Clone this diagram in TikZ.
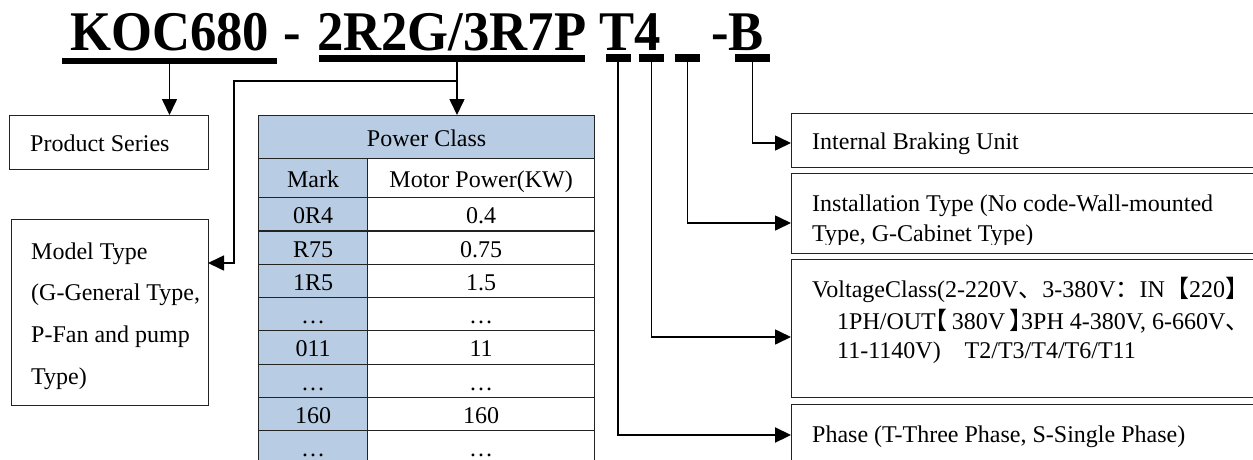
\documentclass[tikz,border=0pt]{standalone}
\usepackage{fontspec}
\setmainfont{Liberation Serif}
\newfontfamily\cjk{Noto Sans CJK SC}
\newfontfamily\cjkh[RawFeature=+halt]{Noto Sans CJK SC}
\usetikzlibrary{arrows.meta}
\definecolor{cellblue}{RGB}{184,204,228}
\definecolor{linegray}{RGB}{35,35,35}
\begin{document}
\begin{tikzpicture}[x=1pt,y=-1pt,
  body/.style={font=\fontsize{24}{28}\selectfont, inner sep=0pt, anchor=base west},
  box/.style={draw=linegray, line width=1.2pt, inner sep=0pt, anchor=north west},
  cell/.style={draw=linegray, line width=1.2pt, inner sep=0pt, anchor=north west,
    text height=19pt, text depth=0pt, font=\fontsize{24}{28}\selectfont},
  ttl/.style={font=\fontsize{56}{60}\selectfont\bfseries, inner sep=0pt, anchor=base west},
  bar/.style={fill=black, draw=none, inner sep=0pt},
  conn/.style={line width=1.6pt, -{Triangle[length=16pt,width=15pt]}},
]
\useasboundingbox (0,0) rectangle (1253,459);
\clip (0,0) rectangle (1253,459);

% title
\node[ttl] (t1) at (70,50) {\scalebox{0.94}[1]{KOC680}};
\node[ttl] (t2) at (283,50) {\scalebox{0.94}[1]{-}};
\node[ttl] (t3) at (317,50) {\scalebox{0.94}[1]{2R2G/3R7P}};
\node[ttl] (t4) at (599,50) {\scalebox{0.94}[1]{T4}};
\node[ttl] (t5) at (711,50) {\scalebox{0.94}[1]{-B}};

% underlines and bars
\node[bar, minimum width=215pt, minimum height=6pt] (u1) at (169.5,61) {};
\node[bar, minimum width=266pt, minimum height=7pt] (u2) at (452,58.5) {};
\node[bar, minimum width=25pt, minimum height=8pt] (b1) at (618,57.5) {};
\node[bar, minimum width=25pt, minimum height=8pt] (b2) at (651.5,57.5) {};
\node[bar, minimum width=25pt, minimum height=8pt] (b3) at (687.5,57.5) {};
\node[bar, minimum width=35pt, minimum height=8pt] (b4) at (752.5,57.5) {};

% left boxes
\node[box, minimum width=199pt, minimum height=54pt] (ps) at (9,115) {};
\node[body] (psl) at (30,151) {Product Series};
\node[box, minimum width=197pt, minimum height=186pt] (mt) at (11,219) {};
\node[body] (mt1) at (31,259) {Model Type};
\node[body] (mt2) at (31,300) {(G-General Type,};
\node[body] (mt3) at (31,342) {P-Fan and pump};
\node[body] (mt4) at (31,384) {Type)};

% table
\node[cell, fill=cellblue, minimum width=336pt, minimum height=43pt] (pc) at (258,115) {Power Class};
\node[cell, fill=cellblue, minimum width=109pt, minimum height=39pt] (mk0) at (258,158) {Mark};
\node[cell, fill=white, minimum width=227pt, minimum height=39pt] (mp0) at (367,158) {Motor Power(KW)};
\foreach \m/\p [count=\i] in {0R4/0.4, R75/0.75, 1R5/1.5, …/…, 011/11, …/…, 160/160, …/…}{
  \node[cell, fill=cellblue, minimum width=109pt, minimum height=33.3pt] (mk\i) at (258,{197+33.3*(\i-1)}) {\m};
  \node[cell, fill=white, minimum width=227pt, minimum height=33.3pt] (mp\i) at (367,{197+33.3*(\i-1)}) {\p};
}

% right boxes
\node[box, minimum width=480pt, minimum height=54pt] (ib) at (791,113) {};
\node[body] (ibl) at (812,149) {Internal Braking Unit};
\node[box, minimum width=480pt, minimum height=80pt] (it) at (791,173) {};
\begin{scope}
  \clip (791,173) rectangle (1253,244);
  \node[body] (it1) at (812,211) {Installation Type (No code-Wall-mounted};
  \node[body] (it2) at (812,241) {Type, G-Cabinet Type)};
\end{scope}
\node[box, minimum width=480pt, minimum height=138pt] (vc) at (791,259) {};
\node[body] (vc1) at (812,297) {VoltageClass(2-220V{\cjk 、}3-380V{\cjk ：}IN{\cjk 【}220{\cjk 】}};
\node[body] (vc2) at (837,329) {1PH/OUT{\cjkh 【}\hspace{4pt}380V\hspace{4pt}{\cjkh 】}3PH 4-380V, 6-660V{\cjk 、}};
\node[body] (vc3) at (837,358) {11-1140V)\hspace{24pt}T2/T3/T4/T6/T11};
\node[box, minimum width=480pt, minimum height=80pt] (ph) at (791,404) {};
\node[body] (phl) at (812,442) {Phase (T-Three Phase, S-Single Phase)};

% connectors
\coordinate (split) at (457,81);
\coordinate (lt) at (234,81);
\coordinate (mtin) at (208,263);
\coordinate (ibin) at (791,143);
\coordinate (itin) at (791,223);
\coordinate (vcin) at (791,337);
\coordinate (phin) at (791,435);

\draw[conn] (u1.south) -- (u1.south |- ps.north);
\draw[line width=1.6pt] (u2.south -| split) -- (split);
\draw[conn] (split) -- (split |- pc.north);
\draw[conn] (split) -- (lt) |- (mtin);
\draw[conn, line width=2.2pt] (b1.south) |- (phin);
\draw[conn] (b2.south) |- (vcin);
\draw[conn] (b3.south) |- (itin);
\draw[conn] (b4.south) |- (ibin);
\end{tikzpicture}
\end{document}
